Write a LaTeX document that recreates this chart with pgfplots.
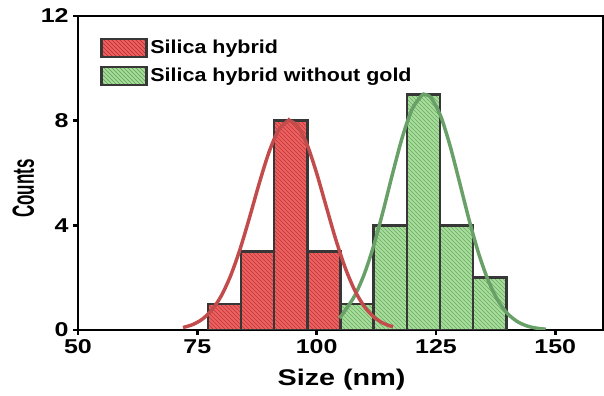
\documentclass[border=0pt]{standalone}
\usepackage{fontspec}
\setmainfont{Liberation Sans}
\usepackage{graphicx}
\usepackage{pgfplots}
\pgfplotsset{compat=1.18}
\usetikzlibrary{patterns}
\definecolor{redfill}{RGB}{236,98,98}
\definecolor{redhatch}{RGB}{196,52,52}
\definecolor{greenfill}{RGB}{168,222,156}
\definecolor{greenhatch}{RGB}{108,170,98}
\definecolor{barline}{RGB}{55,55,55}
\definecolor{redcurve}{RGB}{194,76,76}
\definecolor{greencurve}{RGB}{104,160,104}
\begin{document}
\begin{tikzpicture}
\useasboundingbox (-58.5pt,-49.5pt) rectangle (394.5pt,247.5pt);
\begin{axis}[
  at={(0,0)}, anchor=south west,
  scale only axis,
  width=393.75pt, height=235.5pt,
  xmin=50, xmax=160, ymin=0, ymax=12,
  xtick={50,75,100,125,150},
  ytick={0,4,8,12},
  tick pos=left,
  tick align=outside,
  major tick length=3.5pt,
  axis line style={line width=2.2pt},
  every tick/.style={line width=2pt, black},
  /pgf/number format/assume math mode=true,
  ticklabel style={font=\bfseries\fontsize{15}{15}\selectfont},
  xticklabel={\scalebox{1.25}[1]{\pgfmathprintnumber{\tick}}},
  yticklabel={\scalebox{1.25}[1]{\pgfmathprintnumber{\tick}}},
  xlabel={\scalebox{1.27}[1]{Size (nm)}},
  ylabel={\scalebox{0.75}[1.35]{Counts}},
  xlabel style={font=\bfseries\fontsize{17}{17}\selectfont, at={(axis description cs:0.502,-0.159)}, anchor=center},
  ylabel style={font=\bfseries\fontsize{17}{17}\selectfont, at={(axis description cs:-0.104,0.45)}, anchor=center, rotate=0},
  legend style={at={(axis description cs:0.042,0.9315)}, anchor=north west, draw=none, fill=none,
    font=\bfseries\fontsize{14}{14}\selectfont, row sep=5pt, inner sep=0pt},
  legend cell align=left,
]
\addplot[ybar interval, fill=redfill, draw=barline, line width=1.8pt,
  postaction={pattern=north west lines, pattern color=redhatch},
  legend image code/.code={\draw[fill=redfill, draw=barline, line width=1.8pt,
    postaction={pattern=north west lines, pattern color=redhatch}] (0pt,-6.75pt) rectangle (33.75pt,6.75pt);}]
  coordinates {(77.2,1) (84.15,3) (91.1,8) (98.05,3) (105.0,3)};
\addlegendentry{\scalebox{1.15}[1]{Silica hybrid}}
\addplot[ybar interval, fill=greenfill, draw=barline, line width=1.8pt,
  postaction={pattern=north west lines, pattern color=greenhatch},
  legend image code/.code={\draw[fill=greenfill, draw=barline, line width=1.8pt,
    postaction={pattern=north west lines, pattern color=greenhatch}] (0pt,-6.75pt) rectangle (33.75pt,6.75pt);}]
  coordinates {(105.0,1) (111.95,4) (118.9,9) (125.85,4) (132.8,2) (139.75,2)};
\addlegendentry{\scalebox{1.15}[1]{Silica hybrid without gold}}
\addplot[forget plot, smooth, draw=greencurve, line width=2.6pt] coordinates {
  (104.8,0.45) (106,0.754) (108,1.318) (110,2.146) (112,3.252) (114,4.593) (116,6.039)
  (118,7.395) (120,8.436) (122,8.961) (122.7,9.0) (124,8.866) (126,8.169) (128,7.011)
  (130,5.604) (132,4.172) (134,2.893) (136,1.868) (138,1.123) (140,0.629) (142,0.328)
  (144,0.159) (146,0.072) (148,0.030)};
\addplot[forget plot, smooth, draw=redcurve, line width=2.6pt] coordinates {
  (72,0.096) (74,0.205) (76,0.408) (78,0.754) (80,1.299) (82,2.085) (84,3.115) (86,4.337)
  (88,5.622) (90,6.787) (92,7.633) (94,7.994) (94.3,8.0) (96,7.797) (98,7.083) (100,5.994)
  (102,4.723) (104,3.466) (106,2.370) (108,1.509) (110,0.894) (112,0.494) (114,0.254)
  (116,0.122)};
\end{axis}
\end{tikzpicture}
\end{document}
